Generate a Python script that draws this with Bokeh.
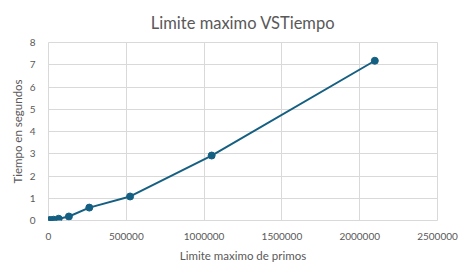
from bokeh.plotting import figure
from bokeh.models import Range1d, FixedTicker
from bokeh.embed import file_html
from bokeh.resources import INLINE

limite = [1024, 2048, 4096, 8192, 16384, 32768, 65536, 131072, 262144, 524288, 1048576, 2097152]
tiempo = [0.001, 0.002, 0.004, 0.008, 0.016, 0.035, 0.08, 0.18, 0.58, 1.08, 2.92, 7.18]
x_ticks = [0, 500000, 1000000, 1500000, 2000000, 2500000]
y_ticks = [0, 1, 2, 3, 4, 5, 6, 7, 8]
titulo = "Limite maximo VSTiempo"

FONT = "Lato"
GRAY = "#595959"
COLOR = "#156082"

p = figure(width=467, height=273, output_backend="svg", toolbar_location=None,
           x_range=Range1d(0, 2500000), y_range=Range1d(0, 8),
           min_border_left=48, min_border_right=30, min_border_top=42, min_border_bottom=53,
           title=titulo)
p.outline_line_color = "#d9d9d9"
p.title.align = "center"
p.title.text_font = FONT
p.title.text_font_size = "16.5px"
p.title.text_font_style = "normal"
p.title.text_color = GRAY
p.title.standoff = 20

p.line(limite, tiempo, line_color=COLOR, line_width=2)
p.scatter(limite, tiempo, size=7, fill_color=COLOR, line_color=COLOR)

for ax in (p.xaxis[0], p.yaxis[0]):
    ax.axis_line_color = None
    ax.major_tick_line_color = None
    ax.minor_tick_line_color = None
    ax.major_label_text_font = FONT
    ax.major_label_text_font_size = "10px"
    ax.major_label_text_color = GRAY
    ax.axis_label_text_font = FONT
    ax.axis_label_text_font_size = "11.5px"
    ax.axis_label_text_font_style = "normal"
    ax.axis_label_text_color = GRAY

p.xaxis.ticker = FixedTicker(ticks=x_ticks)
p.yaxis.ticker = FixedTicker(ticks=y_ticks)
p.xaxis.formatter.use_scientific = False
p.xaxis.axis_label = "Limite maximo de primos"
p.yaxis.axis_label = "Tiempo en segundos"
p.xaxis.major_label_standoff = 6
p.yaxis.major_label_standoff = 7
p.xaxis.axis_label_standoff = 6
p.yaxis.axis_label_standoff = 3

p.xgrid.grid_line_color = "#d9d9d9"
p.ygrid.grid_line_color = "#d9d9d9"

open("out.html", "w").write(file_html(p, INLINE))
